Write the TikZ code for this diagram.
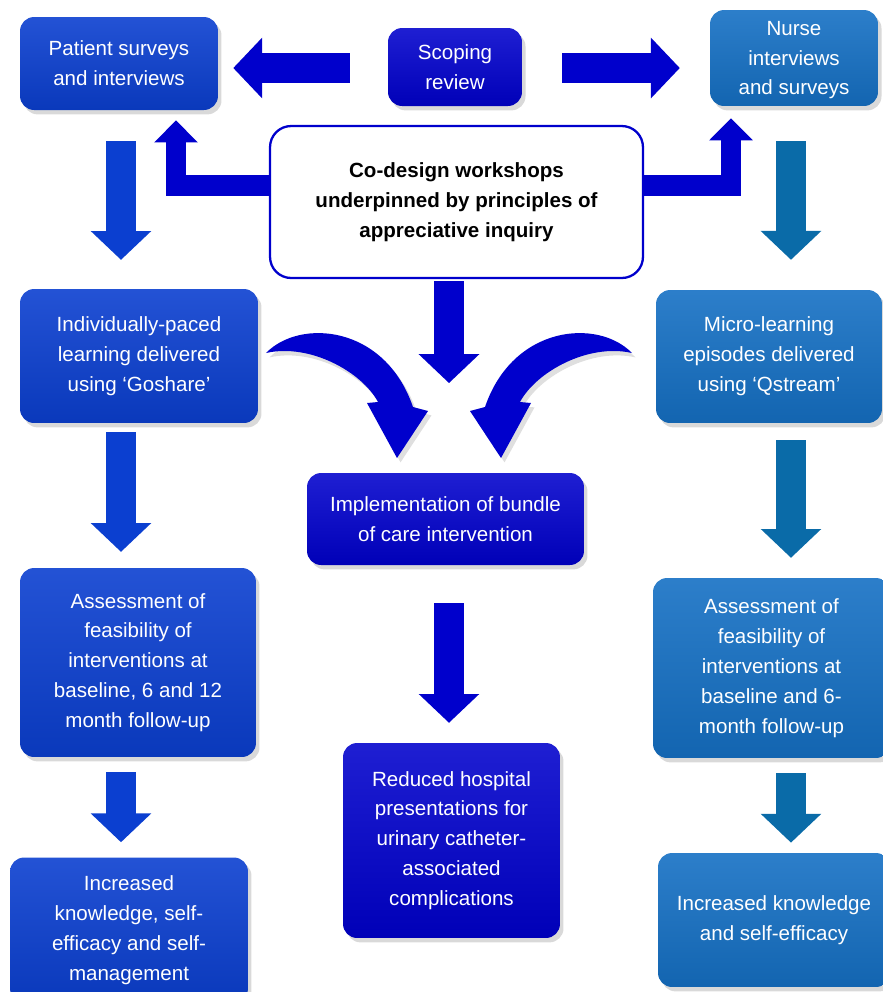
\documentclass[tikz,border=0pt]{standalone}
\usepackage{fontspec}
\setmainfont{Liberation Sans}
\usetikzlibrary{arrows.meta,shadows}

\definecolor{deepblue}{HTML}{0000CC}
\definecolor{leftblue}{HTML}{0B3FD0}
\definecolor{rightblue}{HTML}{1570C4}
\definecolor{tealarrow}{HTML}{0A6BA8}

\newcommand\boxfont{\fontsize{11.7}{17}\selectfont}

\tikzset{
    box/.style={rounded corners=8pt, align=center, text=white, font=\boxfont, inner sep=2pt,
        drop shadow={shadow xshift=2pt, shadow yshift=-2.5pt, opacity=0.3}},
    leftbox/.style={box, top color=leftblue!90!white, bottom color=leftblue!90!black},
    rightbox/.style={box, top color=rightblue!90!white, bottom color=rightblue!90!black},
    darkbox/.style={box, top color=deepblue!88!white, bottom color=deepblue!90!black},
    codbox/.style={draw=deepblue, line width=1.3pt, fill=white, rounded corners=12pt,
        align=center, font=\boxfont\bfseries},
    fatarrow/.style={line width=17pt, -{Triangle[length=16.4pt, width=33.5pt]}},
    larrow/.style={line width=11.5pt, line join=miter, -{Triangle[length=12.5pt, width=24pt]}},
}

\begin{document}
\begin{tikzpicture}[x=0.02cm, y=-0.02cm]
    \useasboundingbox (0,0) rectangle (883,992) ;

    % top row
    \node [leftbox, minimum width=3.96cm, minimum height=1.86cm] (pat) at (119,63.5) {Patient surveys\\and interviews} ;
    \node [darkbox, minimum width=2.68cm, minimum height=1.56cm] (scop) at (455,67) {Scoping\\review} ;
    \node [rightbox, minimum width=3.36cm, minimum height=1.92cm, text depth=-8pt] (nurse) at (794,58) {Nurse\\interviews\\and surveys} ;
    \node [codbox, minimum width=7.46cm, minimum height=3.04cm] (cod) at (456.5,202) {Co-design workshops\\underpinned by principles of\\appreciative inquiry} ;

    % second row
    \node [leftbox, minimum width=4.76cm, minimum height=2.68cm] (ind) at (139,356) {Individually-paced\\learning delivered\\using ‘Goshare’} ;
    \node [rightbox, minimum width=4.52cm, minimum height=2.66cm] (micro) at (769,356.5) {Micro-learning\\episodes delivered\\using ‘Qstream’} ;
    \node [darkbox, minimum width=5.54cm, minimum height=1.84cm] (impl) at (445.5,519) {Implementation of bundle\\of care intervention} ;

    % third row
    \node [leftbox, minimum width=4.72cm, minimum height=3.78cm] (assl) at (138,662.5) {Assessment of\\feasibility of\\interventions at\\baseline, 6 and 12\\month follow-up} ;
    \node [darkbox, minimum width=4.34cm, minimum height=3.9cm] (red) at (451.5,840.5) {Reduced hospital\\presentations for\\urinary catheter-\\associated\\complications} ;
    \node [rightbox, minimum width=4.74cm, minimum height=3.6cm] (assr) at (771.5,668) {Assessment of\\feasibility of\\interventions at\\baseline and 6-\\month follow-up} ;

    % bottom row
    \node [leftbox, minimum width=4.76cm, minimum height=2.9cm] (incl) at (129,930) {Increased\\knowledge, self-\\efficacy and self-\\management} ;
    \node [rightbox, minimum width=4.64cm, minimum height=2.68cm] (incr) at (774,920) {Increased knowledge\\and self-efficacy} ;

    \coordinate (lcol) at (121,0) ;
    \coordinate (ccol) at (449,0) ;
    \coordinate (rcol) at (791,0) ;
    \coordinate (trow) at (0,68) ;
    \coordinate (lrow) at (0,185.5) ;
    \coordinate (lup) at (176,0) ;
    \coordinate (rup) at (731,0) ;

    \draw [fatarrow, deepblue, shorten <=21.5pt, shorten >=8.5pt] (scop.west |- trow) -- (pat.east |- trow) ;
    \draw [fatarrow, deepblue, shorten <=22.7pt, shorten >=17pt] (scop.east |- trow) -- (nurse.west |- trow) ;
    \draw [larrow, deepblue, shorten >=5.7pt] (cod.west |- lrow) -| (lup |- pat.south) ;
    \draw [larrow, deepblue, shorten >=6.8pt] (cod.east |- lrow) -| (rup |- nurse.south) ;

    \draw [fatarrow, leftblue, shorten <=17.6pt, shorten >=16.4pt] (lcol |- pat.south) -- (lcol |- ind.north) ;
    \draw [fatarrow, leftblue, shorten <=5.1pt, shorten >=9pt] (lcol |- ind.south) -- (lcol |- assl.north) ;
    \draw [fatarrow, leftblue, shorten <=8.5pt, shorten >=8.5pt] (lcol |- assl.south) -- (lcol |- incl.north) ;

    \draw [fatarrow, tealarrow, shorten <=19.8pt, shorten >=17pt] (rcol |- nurse.south) -- (rcol |- micro.north) ;
    \draw [fatarrow, tealarrow, shorten <=9.6pt, shorten >=11.3pt] (rcol |- micro.south) -- (rcol |- assr.north) ;
    \draw [fatarrow, tealarrow, shorten <=8.5pt, shorten >=5.7pt] (rcol |- assr.south) -- (rcol |- incr.north) ;

    \draw [fatarrow, deepblue, shorten <=1.1pt, shorten >=51pt] (ccol |- cod.south) -- (ccol |- impl.north) ;
    \draw [fatarrow, deepblue, shorten <=21.5pt, shorten >=11.3pt] (ccol |- impl.south) -- (ccol |- red.north) ;

    % curved arrows into the bundle
    \fill [deepblue, drop shadow={shadow xshift=2pt, shadow yshift=-2.5pt, opacity=0.25}]
        (266,353) .. controls (300,318) and (385,325) .. (413,407) -- (428,411) -- (397,458)
        -- (367,403) -- (378,402) .. controls (362,372) and (310,343) .. cycle ;
    \fill [deepblue, drop shadow={shadow xshift=2pt, shadow yshift=-2.5pt, opacity=0.25}]
        (632,353) .. controls (598,318) and (513,325) .. (485,407) -- (470,411) -- (501,458)
        -- (531,403) -- (520,402) .. controls (536,372) and (588,343) .. cycle ;
\end{tikzpicture}
\end{document}
